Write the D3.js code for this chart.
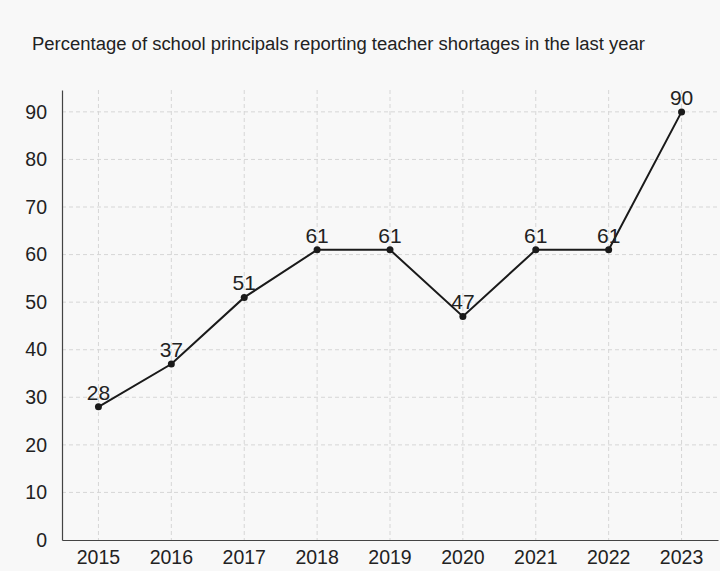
<!DOCTYPE html>
<html><head><meta charset="utf-8">
<script src="https://cdn.jsdelivr.net/npm/d3@7"></script>
<style>
html,body{margin:0;padding:0;background:#f8f8f8;}
svg{display:block;font-family:"Liberation Sans",Arial,sans-serif;}
</style></head><body>
<svg id="chart" width="720" height="571"></svg>
<script>
const title = "Percentage of school principals reporting teacher shortages in the last year";
const years = ["2015","2016","2017","2018","2019","2020","2021","2022","2023"];
const values = [28,37,51,61,61,47,61,61,90];
const yTicks = [0,10,20,30,40,50,60,70,80,90];

(function(){
const svg = d3.select("#chart");
const mL = 62, mR = 718, mT = 90, mB = 540;

svg.append("rect").attr("width",720).attr("height",571).attr("fill","#f8f8f8");

svg.append("text").attr("x",32).attr("y",50)
  .attr("font-size",18).attr("fill","#222")
  .attr("textLength",613).attr("lengthAdjust","spacingAndGlyphs").text(title);

const x = d3.scaleBand().domain(years).range([mL,mR]).padding(0);
const y = d3.scaleLinear().domain([0,94.6]).range([mB,mT]);
const cx = d => x(d) + x.bandwidth()/2;

const g = svg.append("g");
g.selectAll("line.h").data(yTicks.filter(d=>d>0)).join("line")
  .attr("x1",mL).attr("x2",mR).attr("y1",d=>y(d)).attr("y2",d=>y(d))
  .attr("stroke","#d6d6d6").attr("stroke-dasharray","4,3").attr("stroke-width",1);
g.selectAll("line.v").data(years).join("line")
  .attr("x1",cx).attr("x2",cx).attr("y1",mT).attr("y2",mB)
  .attr("stroke","#d6d6d6").attr("stroke-dasharray","4,3").attr("stroke-width",1);

const yAxis = svg.append("g").attr("transform",`translate(${mL},0)`)
  .call(d3.axisLeft(y).tickValues(yTicks).tickSize(0).tickPadding(15));
yAxis.select(".domain").attr("stroke","#444").attr("stroke-width",1.2);
yAxis.selectAll("text").attr("font-size",19.5).attr("fill","#222").attr("font-family","Liberation Sans, Arial, sans-serif");

const xAxis = svg.append("g").attr("transform",`translate(0,${mB})`)
  .call(d3.axisBottom(x).tickSize(0).tickPadding(10));
xAxis.select(".domain").attr("stroke","#444").attr("stroke-width",1.2);
xAxis.selectAll("text").attr("font-size",19.5).attr("fill","#222").attr("font-family","Liberation Sans, Arial, sans-serif");

const data = years.map((yr,i)=>({yr,v:values[i]}));
svg.append("path").datum(data)
  .attr("fill","none").attr("stroke","#1a1a1a").attr("stroke-width",2)
  .attr("d", d3.line().x(d=>cx(d.yr)).y(d=>y(d.v)));
svg.selectAll("circle.pt").data(data).join("circle")
  .attr("cx",d=>cx(d.yr)).attr("cy",d=>y(d.v)).attr("r",3.5).attr("fill","#1a1a1a");
svg.selectAll("text.lbl").data(data).join("text")
  .attr("x",d=>cx(d.yr)).attr("y",d=>y(d.v)-7)
  .attr("text-anchor","middle").attr("font-size",21).attr("fill","#222")
  .text(d=>d.v);
})();
</script>
</body></html>
